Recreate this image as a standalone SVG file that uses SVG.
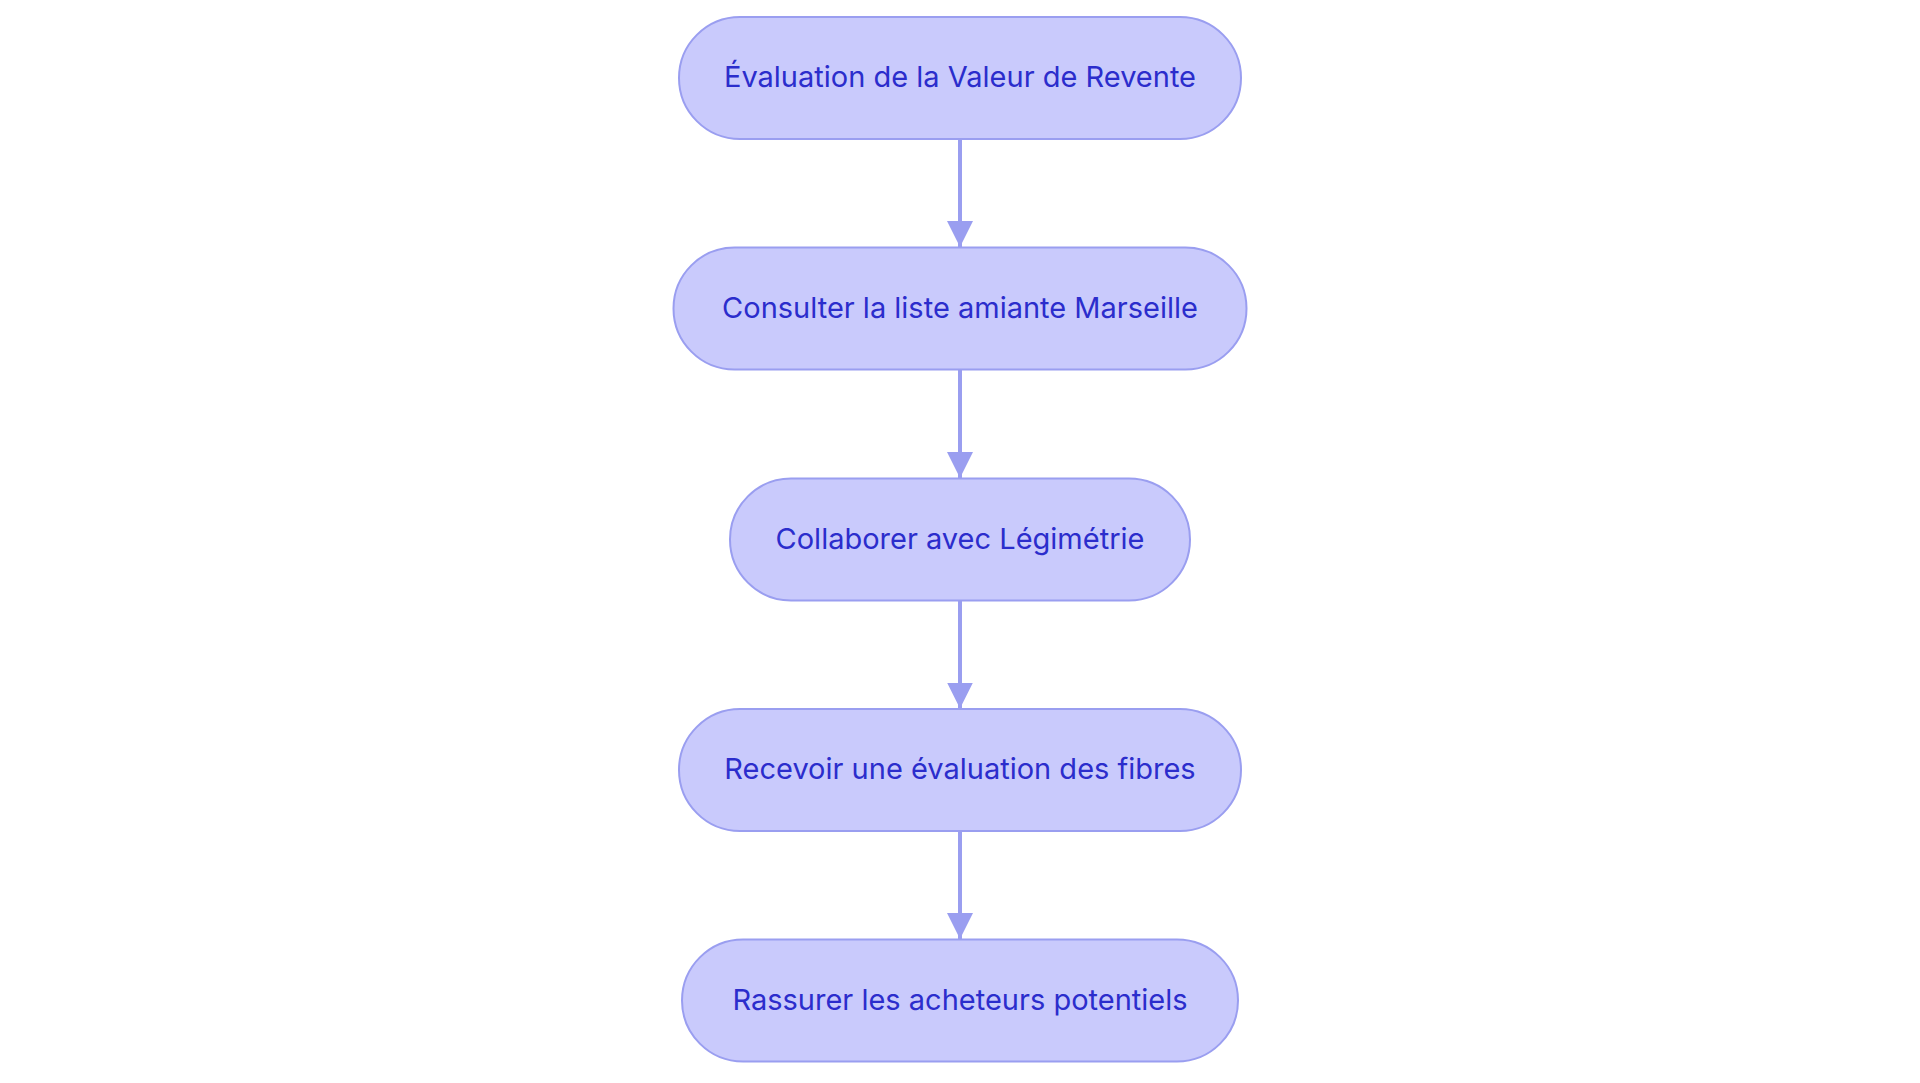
<svg xmlns="http://www.w3.org/2000/svg" width="1920" height="1083" viewBox="0 0 1920 1083">
<style>
.node rect{fill:#c9cafc;stroke:#9a9ef0;stroke-width:2}
.node text{font-family:Inter,"Open Sans","Liberation Sans",sans-serif;font-size:29px;fill:#2b2dcc;text-anchor:middle}
.edge{stroke:#9a9ef0;stroke-width:4;fill:none}
</style>
<defs>
<marker id="arr" markerUnits="userSpaceOnUse" markerWidth="26" markerHeight="26" refX="26" refY="13" orient="auto" viewBox="0 0 26 26">
<path d="M0,0 L26,13 L0,26 Z" fill="#9a9ef0"/>
</marker>
</defs>
<rect width="1920" height="1083" fill="#ffffff"/>
<g id="connectors">
<line class="edge" x1="960" y1="139" x2="960" y2="247" marker-end="url(#arr)"/>
<line class="edge" x1="960" y1="369.5" x2="960" y2="478" marker-end="url(#arr)"/>
<line class="edge" x1="960" y1="600" x2="960" y2="708.5" marker-end="url(#arr)"/>
<line class="edge" x1="960" y1="830.5" x2="960" y2="939" marker-end="url(#arr)"/>
</g>
<g id="n1" class="node"><rect x="679" y="17" width="562" height="122" rx="61" ry="61"/><text x="960" y="87">Évaluation de la Valeur de Revente</text></g>
<g id="n2" class="node"><rect x="673.5" y="247.5" width="573" height="122" rx="61" ry="61"/><text x="960" y="317.5">Consulter la liste amiante Marseille</text></g>
<g id="n3" class="node"><rect x="730" y="478.5" width="460" height="122" rx="61" ry="61"/><text x="960" y="548.5">Collaborer avec Légimétrie</text></g>
<g id="n4" class="node"><rect x="679" y="709" width="562" height="122" rx="61" ry="61"/><text x="960" y="779">Recevoir une évaluation des fibres</text></g>
<g id="n5" class="node"><rect x="682" y="939.5" width="556" height="122" rx="61" ry="61"/><text x="960" y="1009.5">Rassurer les acheteurs potentiels</text></g>
</svg>
